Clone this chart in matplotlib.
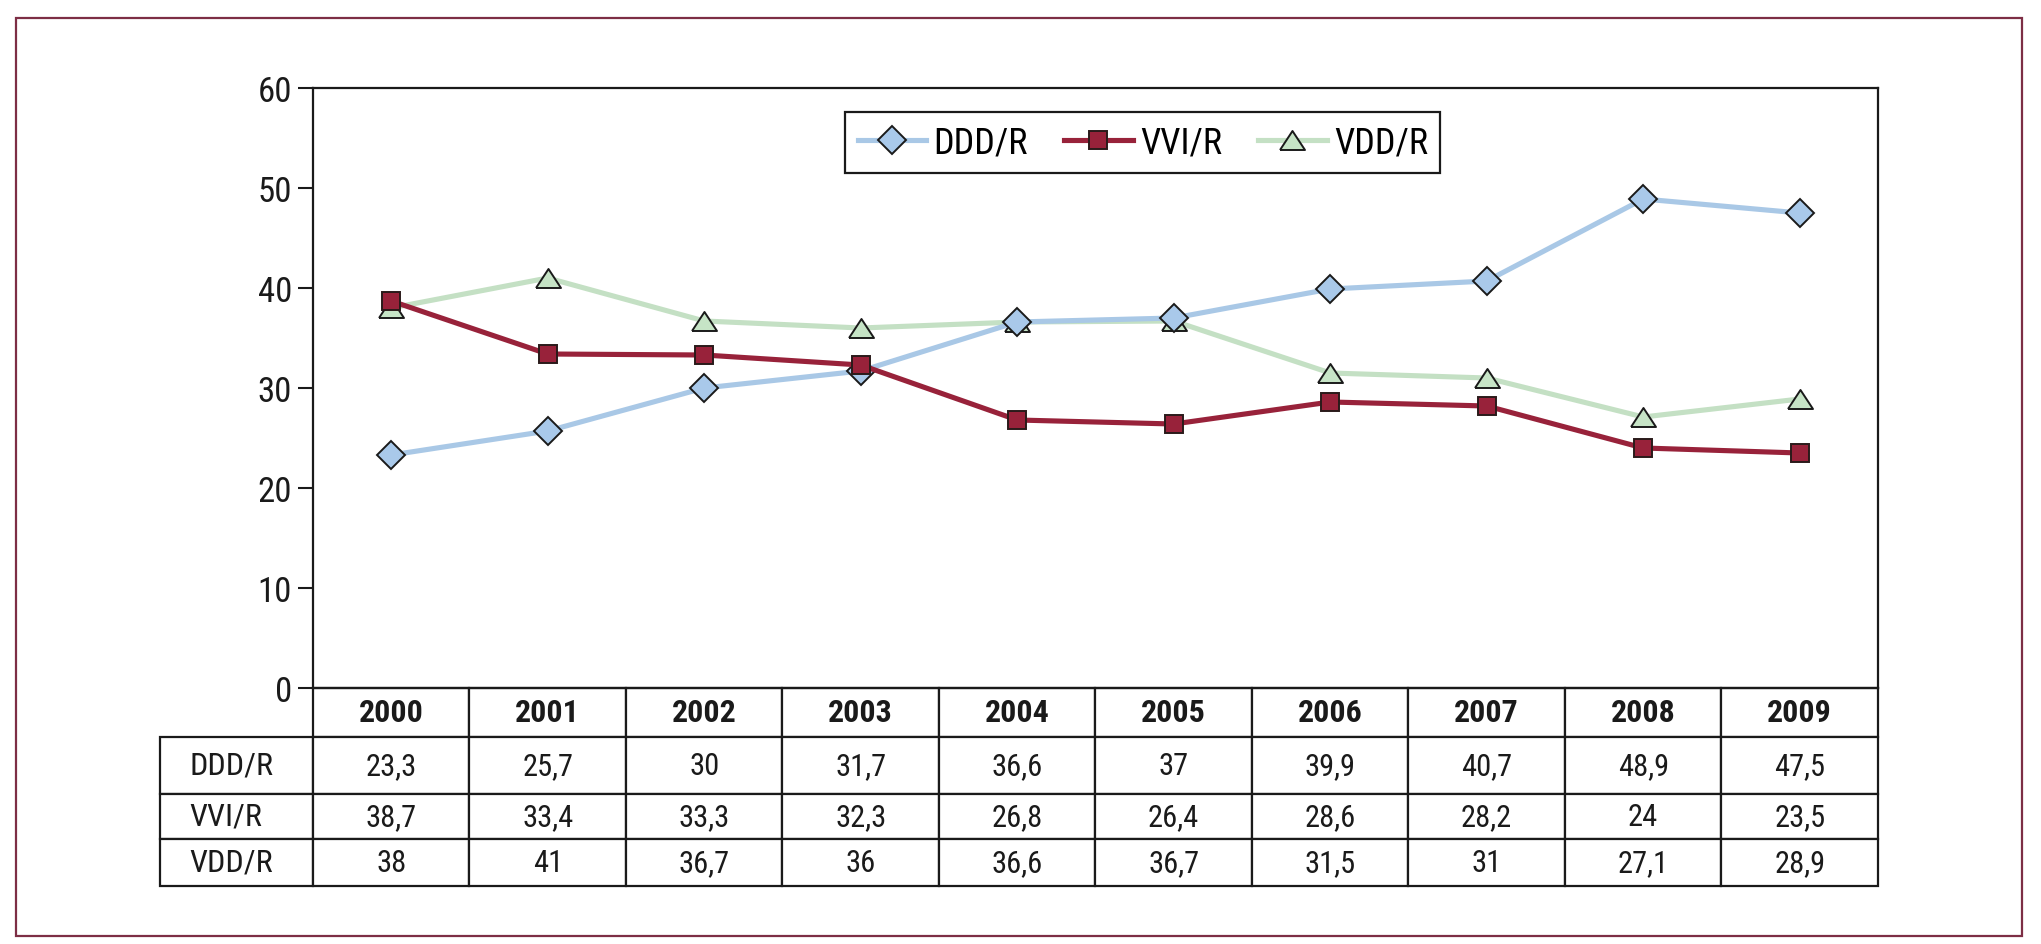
"""
    Pacemaker modes by year, line chart with data table below
"""

import matplotlib
matplotlib.use('Agg')
import matplotlib.pyplot as plt
import matplotlib.patches as mpatches

years = ['2000', '2001', '2002', '2003', '2004', '2005', '2006', '2007', '2008', '2009']
series_names = ['DDD/R', 'VVI/R', 'VDD/R']
ddd = [23.3, 25.7, 30, 31.7, 36.6, 37, 39.9, 40.7, 48.9, 47.5]
vvi = [38.7, 33.4, 33.3, 32.3, 26.8, 26.4, 28.6, 28.2, 24, 23.5]
vdd = [38, 41, 36.7, 36, 36.6, 36.7, 31.5, 31, 27.1, 28.9]
table_text = [['23,3', '25,7', '30', '31,7', '36,6', '37', '39,9', '40,7', '48,9', '47,5'],
              ['38,7', '33,4', '33,3', '32,3', '26,8', '26,4', '28,6', '28,2', '24', '23,5'],
              ['38', '41', '36,7', '36', '36,6', '36,7', '31,5', '31', '27,1', '28,9']]

plt.rcParams['font.family'] = ['Roboto Condensed', 'PT Sans Narrow', 'DejaVu Sans']
plt.rcParams['font.stretch'] = 'condensed'

W, H = 2041, 945
fig = plt.figure(figsize=(W / 100, H / 100), dpi=100)
fig.patch.set_facecolor('white')

ax_l, ax_r, ax_t, ax_b = 313, 1878, 89, 689
ax = fig.add_axes([ax_l / W, 1 - ax_b / H, (ax_r - ax_l) / W, (ax_b - ax_t) / H])

# flat triangle like the original marker (closed path)
tri = [(-1, -0.76), (1, -0.76), (0, 0.76), (-1, -0.76)]

x = list(range(len(years)))
ax.plot(x, ddd, color='#a9c8e6', lw=3.7, marker='D', ms=14, mfc='#a9c9ea', mec='#1a1a1a', mew=1.4,
        label=series_names[0], zorder=3)
ax.plot(x, vvi, color='#98223a', lw=3.7, marker='s', ms=13, mfc='#98223a', mec='#2a1a1a', mew=1.4,
        label=series_names[1], zorder=4)
ax.plot(x, vdd, color='#c4e0c4', lw=3.7, marker=tri, ms=18, mfc='#c6e4c6', mec='#1a1a1a', mew=1.4,
        label=series_names[2], zorder=2)

ax.set_xlim(-0.5, len(years) - 0.5)
ax.set_ylim(0, 60)
ax.set_yticks(range(0, 61, 10))
ax.set_xticks([])
ax.tick_params(axis='y', length=11, width=1.5, labelsize=25, pad=4, colors='#1a1a1a')
for sp in ax.spines.values():
    sp.set_linewidth(1.6)
    sp.set_color('#1a1a1a')

leg = ax.legend(loc='upper left', bbox_to_anchor=((845 - ax_l) / (ax_r - ax_l), 1 - (113 - ax_t) / (ax_b - ax_t)),
                ncol=3, fontsize=26, frameon=True, fancybox=False, framealpha=1, borderaxespad=0,
                handlelength=1.9, columnspacing=1.0, handletextpad=0.2, borderpad=0.35)
leg.get_frame().set_edgecolor('#1a1a1a')
leg.get_frame().set_linewidth(1.6)

# data table under the axes (bbox covers the data cells only)
row_h = [49, 57, 45, 47]
tbl_left = 160
tbl_h = sum(row_h)
ax_w = ax_r - ax_l
ax_hpx = ax_b - ax_t
tbl = ax.table(cellText=table_text, colLabels=years, cellLoc='center',
               bbox=[0, -tbl_h / ax_hpx, 1, tbl_h / ax_hpx])
tbl.auto_set_font_size(False)
tbl.set_fontsize(22)
for i, name in enumerate(series_names):
    tbl.add_cell(i + 1, -1, width=(ax_l - tbl_left) / ax_w, height=row_h[i + 1] / ax_hpx,
                 text=name, loc='left')
for (r, c), cell in tbl.get_celld().items():
    cell.set_linewidth(1.6)
    cell.set_edgecolor('#1a1a1a')
    cell.set_height(row_h[r] / ax_hpx)
    txt = cell.get_text()
    txt.set_color('#1a1a1a')
    if c == -1:
        cell.set_width((ax_l - tbl_left) / ax_w)
        cell.PAD = 0.19
        txt.set_fontsize(23)
    else:
        cell.set_width(0.1)
        txt.set_fontsize(22)
    if r == 0:
        txt.set_fontweight('bold')
        txt.set_fontsize(23)

# outer frame
frame = mpatches.Rectangle((16 / W, 1 - 937 / H), (2022 - 16) / W, (937 - 19) / H,
                           transform=fig.transFigure, fill=False, edgecolor='#7d2e45', lw=1.6)
fig.add_artist(frame)

fig.savefig('out.png', dpi=100)
